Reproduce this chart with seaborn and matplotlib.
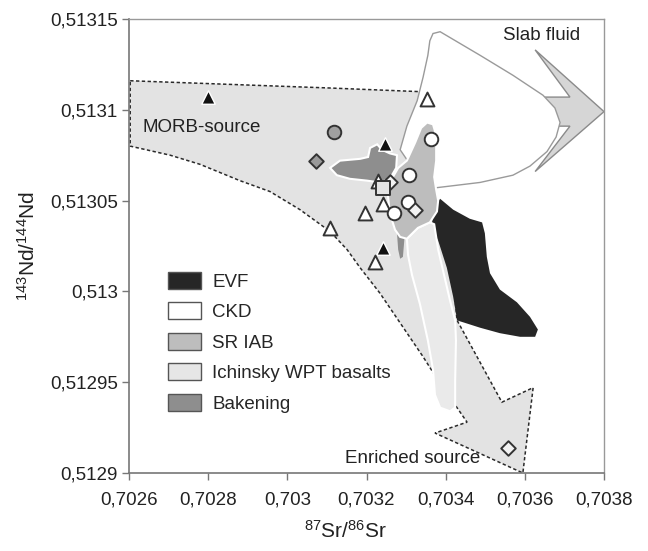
import matplotlib
matplotlib.use("Agg")
import matplotlib.pyplot as plt
from matplotlib.patches import Patch
import pandas as pd
import seaborn as sns

# ---- fields in 87Sr/86Sr - 143Nd/144Nd space ----
# MORB-source -> enriched source mixing field (dashed outline)
mix_sr = [0.702603, 0.702855, 0.703108, 0.703335, 0.703348, 0.703365, 0.703406,
          0.703424, 0.703429, 0.703542, 0.703621, 0.703595, 0.703373, 0.703454,
          0.703378, 0.703343, 0.703234, 0.703184, 0.703151, 0.703108, 0.703032,
          0.702956, 0.702880, 0.702779, 0.702704, 0.702603]
mix_nd = [0.513116, 0.513114, 0.513112, 0.513110, 0.513078, 0.513050, 0.513017,
          0.512995, 0.512984, 0.512939, 0.512947, 0.512900, 0.512922, 0.512928,
          0.512952, 0.512964, 0.512999, 0.513013, 0.513023, 0.513033, 0.513045,
          0.513055, 0.513061, 0.513070, 0.513075, 0.513080]

# slab fluid arrow
slab_sr = [0.703800, 0.703626, 0.703714, 0.703626, 0.703626, 0.703714, 0.703626]
slab_nd = [0.513099, 0.513066, 0.513091, 0.513091, 0.513107, 0.513107, 0.513133]

# CKD
ckd_sr = [0.703368, 0.703386, 0.703487, 0.703570, 0.703646, 0.703676, 0.703689,
          0.703679, 0.703656, 0.703613, 0.703570, 0.703487, 0.703373, 0.703335,
          0.703310, 0.703285, 0.703302, 0.703328, 0.703343, 0.703355, 0.703360]
ckd_nd = [0.513142, 0.513143, 0.513130, 0.513119, 0.513108, 0.513101, 0.513093,
          0.513085, 0.513077, 0.513069, 0.513064, 0.513060, 0.513057, 0.513050,
          0.513070, 0.513078, 0.513091, 0.513105, 0.513118, 0.513130, 0.513138]

# EVF
evf_sr = [0.703368, 0.703386, 0.703419, 0.703461, 0.703492, 0.703499, 0.703504,
          0.703512, 0.703537, 0.703580, 0.703613, 0.703633, 0.703626, 0.703588,
          0.703537, 0.703487, 0.703444, 0.703429, 0.703419, 0.703403, 0.703381,
          0.703365]
evf_nd = [0.513045, 0.513051, 0.513045, 0.513040, 0.513038, 0.513032, 0.513019,
          0.513010, 0.513001, 0.512994, 0.512986, 0.512979, 0.512975, 0.512975,
          0.512977, 0.512980, 0.512983, 0.512984, 0.512997, 0.513013, 0.513028,
          0.513035]

# Ichinsky WPT basalts
ich_sr = [0.703302, 0.703330, 0.703360, 0.703371, 0.703381, 0.703396, 0.703411,
          0.703424, 0.703426, 0.703424, 0.703424, 0.703411, 0.703386, 0.703373,
          0.703368, 0.703355, 0.703335, 0.703315, 0.703305]
ich_nd = [0.513029, 0.513035, 0.513038, 0.513037, 0.513023, 0.513009, 0.512995,
          0.512984, 0.512973, 0.512951, 0.512936, 0.512934, 0.512936, 0.512943,
          0.512957, 0.512973, 0.512993, 0.513009, 0.513020]

# SR IAB
sr_sr = [0.703353, 0.703368, 0.703376, 0.703376, 0.703371, 0.703376, 0.703381,
         0.703378, 0.703360, 0.703330, 0.703302, 0.703285, 0.703272, 0.703259,
         0.703254, 0.703264, 0.703280, 0.703302, 0.703323, 0.703338]
sr_nd = [0.513093, 0.513092, 0.513086, 0.513072, 0.513063, 0.513056, 0.513050,
         0.513044, 0.513038, 0.513035, 0.513029, 0.513030, 0.513034, 0.513043,
         0.513053, 0.513062, 0.513068, 0.513072, 0.513082, 0.513090]

# Bakening (main field and small strip)
bak_sr = [0.703108, 0.703133, 0.703184, 0.703204, 0.703209, 0.703227, 0.703239,
          0.703259, 0.703277, 0.703275, 0.703259, 0.703234, 0.703201, 0.703158,
          0.703125]
bak_nd = [0.513068, 0.513072, 0.513073, 0.513074, 0.513079, 0.513081, 0.513078,
          0.513076, 0.513075, 0.513068, 0.513062, 0.513060, 0.513061, 0.513062,
          0.513064]
bak2_sr = [0.703277, 0.703297, 0.703292, 0.703285, 0.703280]
bak2_nd = [0.513032, 0.513032, 0.513019, 0.513018, 0.513023]

# ---- sample points ----
pt_sr = [0.702800, 0.703247, 0.703242,
         0.703353, 0.703108, 0.703196, 0.703242, 0.703221, 0.703229,
         0.703363, 0.703307, 0.703305, 0.703269,
         0.703118, 0.703072,
         0.703259, 0.703323, 0.703557,
         0.703242]
pt_nd = [0.513107, 0.513081, 0.513024,
         0.513106, 0.513035, 0.513043, 0.513048, 0.513016, 0.513061,
         0.513084, 0.513064, 0.513049, 0.513043,
         0.513088, 0.513072,
         0.513060, 0.513045, 0.512914,
         0.513057]
pt_kind = ["evf"] * 3 + ["tri"] * 6 + ["circ"] * 4 + ["gcirc", "gdiam"] + ["diam"] * 3 + ["sq"]

legend_labels = ["EVF", "CKD", "SR IAB", "Ichinsky WPT basalts", "Bakening"]
legend_colors = ["#262626", "#ffffff", "#bdbdbd", "#e6e6e6", "#8e8e8e"]

xticks = [0.7026, 0.7028, 0.7030, 0.7032, 0.7034, 0.7036, 0.7038]
xtick_labels = ["0,7026", "0,7028", "0,703", "0,7032", "0,7034", "0,7036", "0,7038"]
yticks = [0.51290, 0.51295, 0.51300, 0.51305, 0.51310, 0.51315]
ytick_labels = ["0,5129", "0,51295", "0,513", "0,51305", "0,5131", "0,51315"]

# ---- style ----
sns.set_style("white")
plt.rcParams["font.family"] = ["Liberation Sans", "DejaVu Sans"]
plt.rcParams["mathtext.fontset"] = "custom"
plt.rcParams["mathtext.rm"] = "Liberation Sans"
plt.rcParams["mathtext.it"] = "Liberation Sans:italic"

fig = plt.figure(figsize=(6.48, 5.51), dpi=100)
ax = fig.add_axes([129 / 648, 78 / 551, 475 / 648, 454 / 551])

# fields
ax.fill(mix_sr, mix_nd, facecolor="#e3e3e3", edgecolor="none", zorder=1)
ax.fill(mix_sr, mix_nd, facecolor="none", edgecolor="#2a2a2a", lw=1.1,
        linestyle=(0, (2.2, 1.6)), zorder=1.5)
ax.fill(slab_sr, slab_nd, facecolor="#d6d6d6", edgecolor="#8a8a8a", lw=1.0, zorder=2)
ax.fill(ckd_sr, ckd_nd, facecolor="#ffffff", edgecolor="#9a9a9a", lw=1.0, zorder=3)
ax.fill(bak2_sr, bak2_nd, facecolor="#8e8e8e", edgecolor="none", zorder=3.5)
ax.fill(evf_sr, evf_nd, facecolor="#262626", edgecolor="none", zorder=4)
ax.fill(ich_sr, ich_nd, facecolor="#eaeaea", edgecolor="#ffffff", lw=1.5, zorder=4.5)
ax.fill(sr_sr, sr_nd, facecolor="#bdbdbd", edgecolor="#ffffff", lw=1.5, zorder=5)
ax.fill(bak_sr, bak_nd, facecolor="#8e8e8e", edgecolor="#ffffff", lw=1.5, zorder=5)

# sample points
pts = pd.DataFrame({"sr": pt_sr, "nd": pt_nd, "kind": pt_kind})
marker_style = {
    "evf":   dict(marker="^", s=95, color="#111111", edgecolor="#ffffff", linewidth=1.0),
    "tri":   dict(marker="^", s=100, color="#ffffff", edgecolor="#333333", linewidth=1.4),
    "circ":  dict(marker="o", s=95, color="#ffffff", edgecolor="#333333", linewidth=1.4),
    "gcirc": dict(marker="o", s=95, color="#a0a0a0", edgecolor="#333333", linewidth=1.4),
    "gdiam": dict(marker="D", s=55, color="#9a9a9a", edgecolor="#333333", linewidth=1.4),
    "diam":  dict(marker="D", s=55, color="#f2f2f2", edgecolor="#333333", linewidth=1.4),
    "sq":    dict(marker="s", s=95, color="#e4e4e4", edgecolor="#333333", linewidth=1.4),
}
for kind in ["evf", "tri", "circ", "gcirc", "gdiam", "diam", "sq"]:
    sub = pts[pts["kind"] == kind]
    sns.scatterplot(data=sub, x="sr", y="nd", ax=ax, zorder=10, legend=False,
                    **marker_style[kind])

# annotations
ax.text(0.702635, 0.51309, "MORB-source", fontsize=13.5, va="center", ha="left",
        color="#222222", zorder=12)
ax.text(0.703545, 0.513141, "Slab fluid", fontsize=13.5, va="center", ha="left",
        color="#222222", zorder=12)
ax.text(0.703146, 0.512908, "Enriched source", fontsize=13.5, va="center", ha="left",
        color="#222222", zorder=12)

# legend
handles = [Patch(facecolor=c, edgecolor="#555555", lw=1.0, label=l)
           for c, l in zip(legend_colors, legend_labels)]
leg = ax.legend(handles=handles, loc="upper left",
                bbox_to_anchor=((168 - 129) / 475, (473 - 272) / 454),
                frameon=False, fontsize=13.5, borderpad=0, borderaxespad=0,
                handlelength=1.76, handleheight=1.0, handletextpad=0.6,
                labelspacing=0.62)
leg.set_zorder(20)

# axes
ax.set_xlim(0.7026, 0.7038)
ax.set_ylim(0.5129, 0.51315)
ax.set_xticks(xticks)
ax.set_xticklabels(xtick_labels)
ax.set_yticks(yticks)
ax.set_yticklabels(ytick_labels)
ax.tick_params(axis="both", direction="out", length=5, width=1, color="#777777",
               labelsize=13.5, labelcolor="#222222", left=True, bottom=True)
ax.tick_params(axis="x", pad=8)
ax.tick_params(axis="y", pad=3)
for side in ["left", "bottom"]:
    ax.spines[side].set_color("#777777")
    ax.spines[side].set_linewidth(1.2)
for side in ["top", "right"]:
    ax.spines[side].set_color("#999999")
    ax.spines[side].set_linewidth(1.0)

ax.set_xlabel(r"$^{87}$Sr/$^{86}$Sr", fontsize=15, color="#222222")
ax.set_ylabel(r"$^{143}$Nd/$^{144}$Nd", fontsize=15, color="#222222")
ax.xaxis.set_label_coords(0.455, -0.103)
ax.yaxis.set_label_coords(-0.19, 0.5)

fig.savefig("out.png", dpi=100)
